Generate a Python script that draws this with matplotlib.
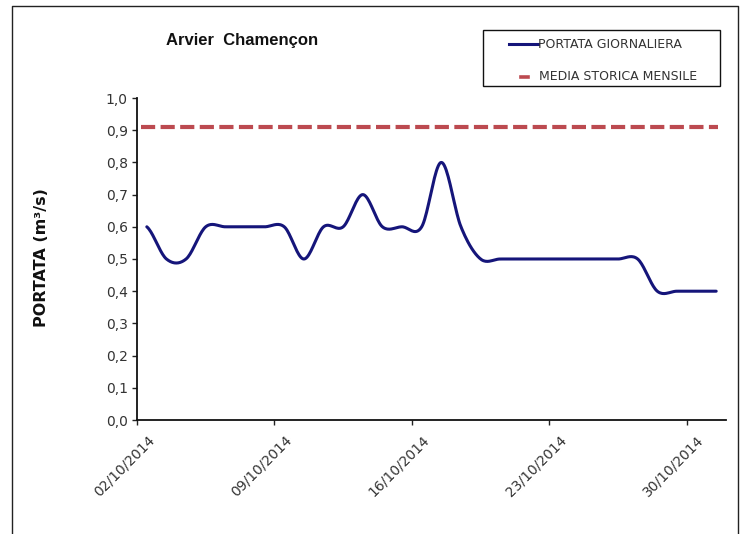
import numpy as np
import pandas as pd
import matplotlib
matplotlib.use("Agg")
import matplotlib.pyplot as plt
from matplotlib.lines import Line2D
from matplotlib.patches import Rectangle
from matplotlib.ticker import FuncFormatter
import matplotlib.transforms as mtransforms

# -----------------------------
# DATA
# -----------------------------
days = pd.date_range("2014-10-02", "2014-10-31", freq="D")
portata = [0.6, 0.5, 0.5, 0.6, 0.6, 0.6, 0.6, 0.6, 0.5, 0.6,
           0.6, 0.7, 0.6, 0.6, 0.6, 0.8, 0.6, 0.5, 0.5, 0.5,
           0.5, 0.5, 0.5, 0.5, 0.5, 0.5, 0.4, 0.4, 0.4, 0.4]
media_storica = 0.91
tick_dates = ["02/10/2014", "09/10/2014", "16/10/2014", "23/10/2014", "30/10/2014"]

TITLE = "Arvier  Chamençon"
YLABEL = "PORTATA (m³/s)"
LEG_DAILY = "PORTATA GIORNALIERA"
LEG_MEAN = "MEDIA STORICA MENSILE"

BLUE = "#15157a"
RED = "#bc4a50"

W, H = 742, 534


def smooth(xv, yv, n=20):
    # excel-like "smoothed line" (catmull-rom through the daily points)
    xv = np.asarray(xv, float)
    yv = np.asarray(yv, float)
    xs, ys = [], []
    for i in range(len(yv) - 1):
        y0 = yv[i - 1] if i > 0 else yv[i]
        y3 = yv[i + 2] if i + 2 < len(yv) else yv[i + 1]
        m0 = (yv[i + 1] - y0) / 2
        m1 = (y3 - yv[i]) / 2
        t = np.linspace(0, 1, n, endpoint=False)
        h = (yv[i] * (2*t**3 - 3*t**2 + 1) + m0 * (t**3 - 2*t**2 + t)
             + yv[i + 1] * (-2*t**3 + 3*t**2) + m1 * (t**3 - t**2))
        xs.append(xv[i] + t * (xv[i + 1] - xv[i]))
        ys.append(h)
    xs.append([xv[-1]])
    ys.append([yv[-1]])
    return np.concatenate(xs), np.concatenate(ys)


def px(x, y):
    return x / W, 1 - y / H


# -----------------------------
# PLOT
# -----------------------------
fig = plt.figure(figsize=(W / 100, H / 100), dpi=100)
fig.patch.set_facecolor("white")
ax = fig.add_axes([137 / W, 1 - 420 / H, 589 / W, 322 / H])

xi = np.arange(len(days))
sx, sy = smooth(xi, portata)
ax.plot(sx, sy, color=BLUE, lw=2.2, solid_capstyle="round")

mline = ax.axhline(media_storica, xmin=0.007, xmax=0.986, color=RED, lw=3.0)
mline.set_dashes((3.4, 1.3))

ax.set_xlim(-0.5, len(days) - 0.5)
ax.set_ylim(0, 1.0)

ax.set_yticks(np.arange(0, 1.01, 0.1))
ax.yaxis.set_major_formatter(FuncFormatter(lambda v, p: f"{v:.1f}".replace(".", ",")))

lab_dates = pd.to_datetime(tick_dates, format="%d/%m/%Y")
xt = [list(days).index(d) - 0.5 for d in lab_dates]
ax.set_xticks(xt)
ax.set_xticklabels(tick_dates, rotation=45, ha="right", va="center",
                   rotation_mode="anchor")

ax.tick_params(axis="both", direction="out", length=3.6, width=1.0,
               colors="#222222", labelsize=10, labelcolor="#333333")
ax.tick_params(axis="y", pad=3)
ax.tick_params(axis="x", pad=0)
off = mtransforms.ScaledTranslation(0.15, -0.13, fig.dpi_scale_trans)
for lab in ax.get_xticklabels():
    lab.set_transform(lab.get_transform() + off)

for s in ["top", "right"]:
    ax.spines[s].set_visible(False)
for s in ["left", "bottom"]:
    ax.spines[s].set_linewidth(1.3)
    ax.spines[s].set_color("#111111")

# title and axis label
fig.text(*px(242, 40), TITLE, ha="center", va="center", fontsize=12,
         fontweight="bold", family="Liberation Sans", color="#111111")
fig.text(*px(42, 258), YLABEL, ha="center", va="center", rotation=90,
         fontsize=11.5, fontweight="bold", color="#111111")

# legend box
lx0, ly0 = px(483, 86)
lx1, ly1 = px(720, 30)
fig.add_artist(Rectangle((lx0, ly0), lx1 - lx0, ly1 - ly0, transform=fig.transFigure,
                         fill=False, edgecolor="#111111", lw=1.0))
fig.add_artist(Line2D([509 / W, 538 / W], [1 - 44 / H] * 2, transform=fig.transFigure,
                      color=BLUE, lw=2.2))
fig.text(*px(538, 44), LEG_DAILY, ha="left", va="center", fontsize=9, color="#333333")
fig.add_artist(Line2D([521 / W, 528 / W], [1 - 77 / H] * 2, transform=fig.transFigure,
                      color=RED, lw=2.6))
fig.text(*px(539, 77), LEG_MEAN, ha="left", va="center", fontsize=9, color="#333333")

# outer chart frame
fig.add_artist(Line2D([12 / W, 12 / W, 738 / W, 738 / W], [0, 1 - 6 / H, 1 - 6 / H, 0],
                      transform=fig.transFigure, color="#222222", lw=1.0))

fig.savefig("out.png", dpi=100, facecolor="white")
